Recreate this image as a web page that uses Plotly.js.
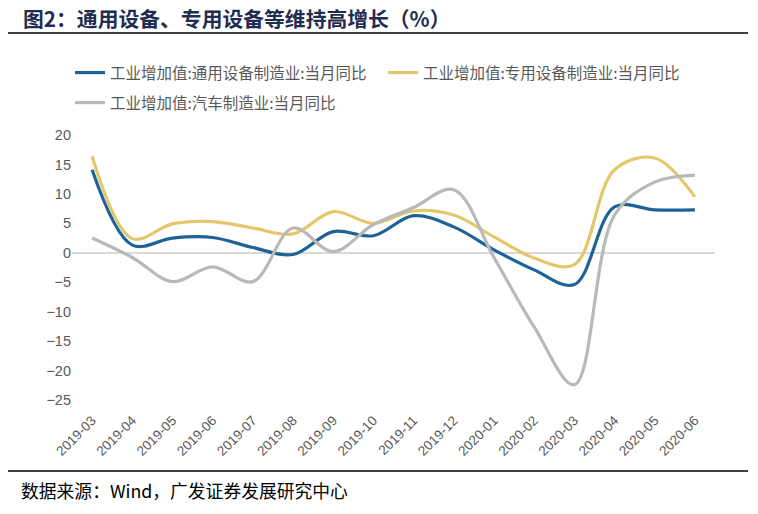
<!DOCTYPE html>
<html>
<head>
<meta charset="utf-8">
<script src="https://cdn.plot.ly/plotly-3.0.1.min.js"></script>
<style>html,body{margin:0;padding:0;background:#fff;}#chart{width:758px;height:514px;}</style>
</head>
<body>
<div id="chart"></div>
<script>
const months = ["2019-03","2019-04","2019-05","2019-06","2019-07","2019-08","2019-09","2019-10","2019-11","2019-12","2020-01","2020-02","2020-03","2020-04","2020-05","2020-06"];
const generalEquip = [14.1, 1.3, 2.5, 2.6, 0.9, -0.3, 3.6, 2.9, 6.3, 4.4, 0.5, -2.9, -5.4, 7.8, 7.3, 7.3];
const specialEquip = [16.4, 2.4, 4.9, 5.3, 4.2, 3.2, 7.0, 5.0, 7.1, 6.4, 2.7, -0.9, -2.0, 14.1, 16.1, 9.5];
const autoMfg = [2.5, -0.8, -4.9, -2.4, -4.9, 4.2, 0.2, 4.8, 7.7, 10.7, -0.8, -12.6, -22.4, 6.4, 12.0, 13.2];
const seriesNames = ["工业增加值:通用设备制造业:当月同比", "工业增加值:专用设备制造业:当月同比", "工业增加值:汽车制造业:当月同比"];
const yTicks = [20, 15, 10, 5, 0, -5, -10, -15, -20, -25];

const colors = ["#1D6398", "#E5C76B", "#B9B9B9"];
const legendIds = ["legend", "legend", "legend2"];
const datasets = [generalEquip, specialEquip, autoMfg];
const traces = datasets.map((d, i) => ({
  x: months, y: d, name: seriesNames[i], type: "scatter", mode: "lines",
  legend: legendIds[i],
  line: {color: colors[i], width: 3.2, shape: "spline", smoothing: 1.0}
}));

const L = 72, R = 715, T = 135, B = 400;
const pw = R - L, ph = B - T;
const px = v => (v - L) / pw;
const py = v => (B - v) / ph;
const legendFont = {family: "Noto Sans CJK SC, sans-serif", size: 15.5, color: "#595959"};

const layout = {
  width: 758, height: 514,
  margin: {l: L, r: 758 - R, t: T, b: 514 - B},
  paper_bgcolor: "#fff", plot_bgcolor: "#fff",
  font: {family: "Liberation Sans, Arial, sans-serif", color: "#595959", size: 13},
  showlegend: true,
  legend: {orientation: "h", x: px(70), y: py(73), xanchor: "left", yanchor: "middle",
    font: legendFont, itemwidth: 30, entrywidth: 268},
  legend2: {orientation: "h", x: px(70), y: py(103), xanchor: "left", yanchor: "middle",
    font: legendFont, itemwidth: 30},
  xaxis: {type: "category", range: [-0.5, 15.5], showgrid: false, zeroline: false, showline: false,
    ticks: "", tickangle: -45, ticklabelstandoff: 9, tickfont: {size: 13.5, color: "#595959"}},
  yaxis: {range: [-25, 20], tickvals: yTicks, showgrid: false, zeroline: true, zerolinecolor: "#D9D9D9",
    zerolinewidth: 1.5, showline: false, ticks: "", tickfont: {size: 14.5, color: "#595959"}},
  shapes: [
    {type: "line", xref: "paper", yref: "paper", x0: px(8), x1: px(748), y0: py(33), y1: py(33), line: {color: "#000", width: 1.3}},
    {type: "line", xref: "paper", yref: "paper", x0: px(8), x1: px(748), y0: py(471), y1: py(471), line: {color: "#000", width: 1.3}}
  ],
  annotations: [
    {xref: "paper", yref: "paper", x: px(21), y: py(18), xanchor: "left", yanchor: "middle", showarrow: false,
      text: "<b>图2：通用设备、专用设备等维持高增长（%）</b>",
      font: {family: "Noto Sans CJK SC, sans-serif", size: 20.8, color: "#1F2D50"}},
    {xref: "paper", yref: "paper", x: px(19), y: py(490), xanchor: "left", yanchor: "middle", showarrow: false,
      text: "数据来源：Wind，广发证券发展研究中心",
      font: {family: "Noto Sans CJK SC, sans-serif", size: 17.8, color: "#000"}}
  ]
};

Plotly.newPlot("chart", traces, layout, {displayModeBar: false, staticPlot: true});
</script>
</body>
</html>
